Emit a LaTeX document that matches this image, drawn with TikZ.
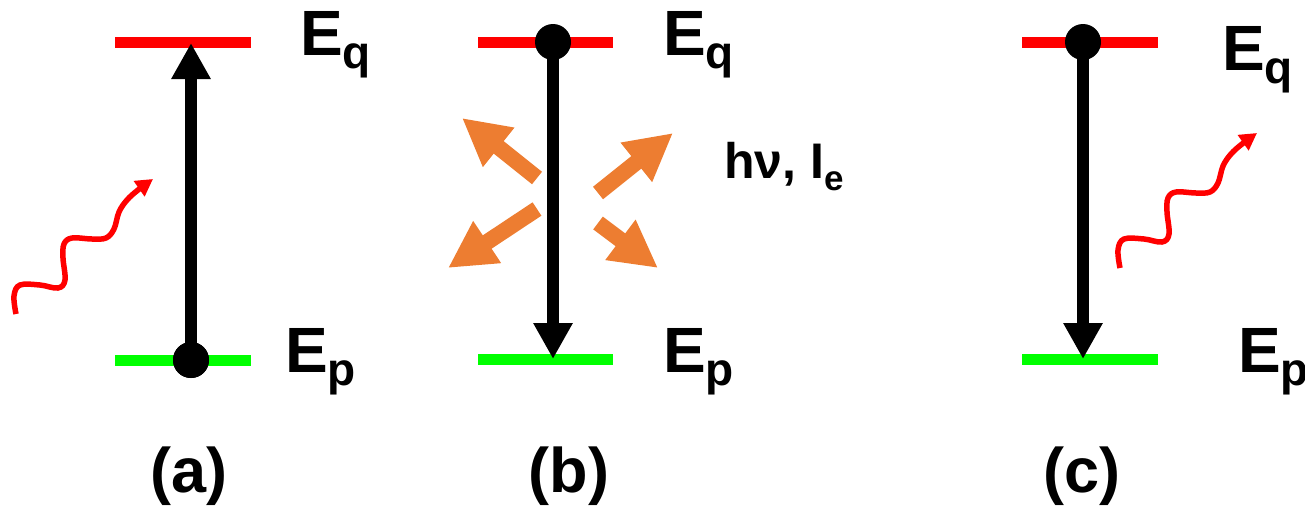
\documentclass[tikz,border=0pt]{standalone}
\usepackage{fontspec}
\setmainfont{Liberation Sans}
\usetikzlibrary{arrows.meta}
\definecolor{lvred}{HTML}{FF0000}
\definecolor{lvgreen}{HTML}{00FF00}
\definecolor{emorange}{HTML}{ED7D31}
\tikzset{
  upper level/.style={draw=lvred, line width=11pt},
  lower level/.style={draw=lvgreen, line width=11pt},
  transition/.style={draw=black, line width=12pt, -{Triangle[width=37pt,length=36pt]}},
  electron/.style={circle, fill=black, minimum size=36pt, inner sep=0pt},
  emission/.style={draw=emorange, line width=16pt, -{Triangle[width=47pt,length=47pt]}},
  photon line/.style={draw=lvred, line width=5.5pt, line cap=butt, -{Triangle[width=18pt,length=17pt]}},
  levellabel/.style={anchor=base west, inner sep=0pt, font=\bfseries},
  panellabel/.style={anchor=base, inner sep=0pt, font=\bfseries\fontsize{63}{63}\selectfont},
  photon/.pic={
    \draw[photon line] plot[smooth, tension=0.6] coordinates {(16,314) (14,296) (20,285) (40,285) (58,288) (65,280) (63,258) (64,244) (72,238) (92,239) (106,238) (114,229) (119,212) (127,200) (138,190) (153,179)};
  }
}
\newcommand{\lvlab}[2]{{\fontsize{64}{64}\selectfont #1}\raisebox{-13pt}{\fontsize{46}{46}\selectfont #2}}
\begin{document}
\begin{tikzpicture}[x=1pt,y=-1pt]
\useasboundingbox (0,0) rectangle (1305,509);
% ---- panel (a)
\coordinate (qa1) at (115,42); \coordinate (qa2) at (251,42);
\coordinate (pa1) at (115,360); \coordinate (pa2) at (251,360);
\draw[upper level] (qa1) -- (qa2);
\draw[lower level] (pa1) -- (pa2);
\node[electron] (ea) at (191,360) {};
\coordinate (ta) at (191,43);
\draw[transition] (ea.center) -- (ta);
\node[electron] at (ea) {};
\pic at (0,0) {photon};
\node[levellabel] (Eqa) at (300,55) {\lvlab{E}{q}};
\node[levellabel] (Epa) at (285,372) {\lvlab{E}{p}};
\node[panellabel] (la) at (189,492) {(a)};
% ---- panel (b)
\coordinate (qb1) at (478,42); \coordinate (qb2) at (613,42);
\coordinate (pb1) at (478,359); \coordinate (pb2) at (613,359);
\draw[upper level] (qb1) -- (qb2);
\draw[lower level] (pb1) -- (pb2);
\node[electron] (eb) at (553,42) {};
\coordinate (tb) at (553,359);
\draw[transition] (eb.center) -- (tb);
\coordinate (o1s) at (537,178); \coordinate (o1e) at (462,118);
\coordinate (o2s) at (598,193); \coordinate (o2e) at (673,133);
\coordinate (o3s) at (537,209); \coordinate (o3e) at (448,268);
\coordinate (o4s) at (598,223); \coordinate (o4e) at (658,268);
\draw[emission] (o1s) -- (o1e);
\draw[emission] (o2s) -- (o2e);
\draw[emission] (o3s) -- (o3e);
\draw[emission] (o4s) -- (o4e);
\node[levellabel] (Eqb) at (663,55) {\lvlab{E}{q}};
\node[levellabel] (Epb) at (663,372) {\lvlab{E}{p}};
\node[anchor=base west, inner sep=0pt, font=\bfseries] (hv) at (724,178)
  {\fontsize{50}{50}\selectfont hν, I\raisebox{-12pt}{\fontsize{35}{35}\selectfont e}};
\node[panellabel] (lb) at (569,492) {(b)};
% ---- panel (c)
\coordinate (qc1) at (1022,42); \coordinate (qc2) at (1158,42);
\coordinate (pc1) at (1022,359); \coordinate (pc2) at (1158,359);
\draw[upper level] (qc1) -- (qc2);
\draw[lower level] (pc1) -- (pc2);
\node[electron] (ec) at (1083,42) {};
\coordinate (tc) at (1083,359);
\draw[transition] (ec.center) -- (tc);
\pic at (1104,-46) {photon};
\node[levellabel] (Eqc) at (1222,70) {\lvlab{E}{q}};
\node[levellabel] (Epc) at (1238,372) {\lvlab{E}{p}};
\node[panellabel] (lc) at (1082,492) {(c)};
\end{tikzpicture}
\end{document}
